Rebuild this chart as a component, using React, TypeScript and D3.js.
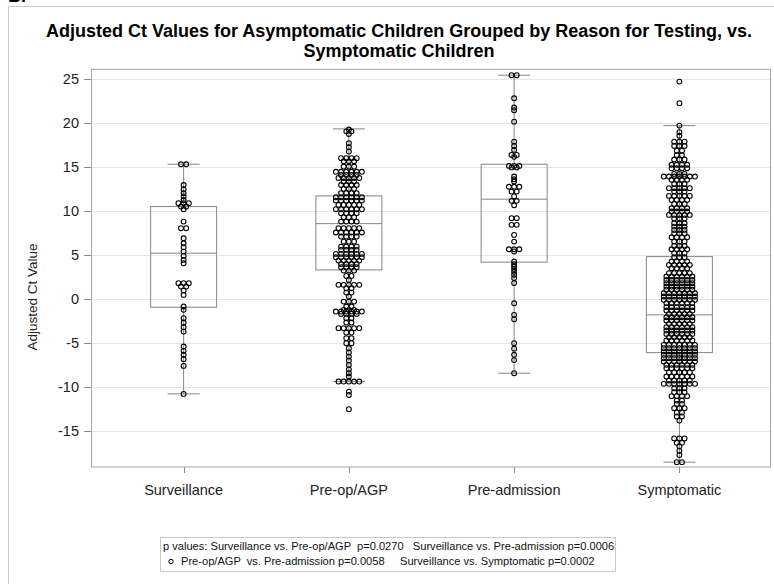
import React from "react";
import * as d3 from "d3";

const categories = ["Surveillance", "Pre-op/AGP", "Pre-admission", "Symptomatic"];
const q1Values = [-0.89, 3.35, 4.23, -6.05];
const medianValues = [5.25, 8.61, 11.39, -1.76];
const q3Values = [10.55, 11.76, 15.36, 4.86];
const whiskerLow = [-10.74, -9.34, -8.39, -18.5];
const whiskerHigh = [15.36, 19.38, 25.48, 19.75];
const yTicks = [-15, -10, -5, 0, 5, 10, 15, 20, 25];

// [value, number of points at that value]
const surveillancePts: [number, number][] = [
  [15.36, 2], [13.0, 1], [12.5, 1], [12.07, 1], [11.7, 1], [11.3, 1], [10.93, 3], [10.55, 2], [10.25, 1],
  [8.84, 1], [8.09, 2], [6.95, 1], [6.38, 1], [5.93, 1], [5.43, 1], [4.94, 1], [4.49, 1], [4.11, 1],
  [1.84, 3], [1.46, 2], [1.0, 1], [0.51, 1], [-0.81, 1], [-1.19, 1], [-2.14, 1], [-2.63, 1], [-3.16, 1],
  [-3.66, 1], [-5.36, 1], [-5.85, 1], [-6.3, 1], [-6.8, 1], [-7.56, 1], [-10.74, 1],
];
const preopPts: [number, number][] = [
  [19.3, 1], [19.1, 2], [18.8, 1], [17.75, 1], [17.3, 1], [16.8, 1], [16.05, 4], [15.7, 3], [15.1, 3],
  [14.5, 6], [14.15, 4], [13.8, 5], [13.4, 3], [13.0, 4], [12.56, 3], [12.07, 4], [11.6, 6], [11.23, 6],
  [10.74, 5], [10.25, 6], [9.8, 4], [9.34, 3], [8.84, 4], [8.1, 5], [7.6, 6], [7.14, 4], [6.57, 3],
  [6.0, 4], [5.63, 4], [5.17, 6], [4.8, 6], [4.41, 5], [4.03, 4], [3.66, 4], [3.27, 3], [2.67, 2],
  [2.2, 1], [1.65, 5], [1.27, 2], [0.77, 2], [0.32, 1], [-0.25, 3], [-0.81, 2], [-1.19, 3], [-1.38, 6],
  [-1.65, 4], [-2.14, 2], [-2.63, 2], [-3.27, 5], [-3.77, 2], [-4.41, 2], [-4.98, 2], [-5.55, 1],
  [-6.04, 1], [-6.5, 1], [-6.95, 1], [-7.45, 1], [-7.95, 1], [-8.4, 1], [-8.77, 1], [-9.34, 5],
  [-10.48, 1], [-10.86, 1], [-12.48, 1],
];
const preadmissionPts: [number, number][] = [
  [25.48, 2], [22.86, 1], [21.8, 1], [21.5, 1], [20.2, 1], [17.93, 1], [17.44, 1], [16.99, 1], [16.42, 2],
  [16.2, 1], [15.17, 3], [15.0, 2], [13.96, 1], [13.65, 1], [13.4, 1], [12.8, 3], [12.25, 2], [11.7, 1],
  [11.2, 2], [10.7, 1], [9.23, 2], [8.47, 2], [7.33, 1], [6.57, 1], [5.7, 3], [5.45, 1], [4.3, 1],
  [4.0, 1], [3.74, 1], [3.44, 1], [3.14, 1], [2.8, 1], [2.42, 1], [1.86, 1], [-0.44, 1], [-1.76, 1],
  [-2.25, 1], [-4.98, 1], [-5.6, 1], [-6.3, 1], [-6.9, 1], [-8.39, 1],
];
const symptomaticPts: [number, number][] = [
  [24.75, 1], [22.3, 1], [19.75, 1], [19.0, 1], [18.6, 1], [17.93, 3], [17.44, 3], [16.9, 2], [16.4, 2],
  [15.9, 3], [15.3, 4], [14.9, 4], [14.26, 3], [13.96, 7], [13.6, 4], [13.1, 3], [12.64, 5], [12.26, 3],
  [11.76, 5], [11.3, 4], [10.85, 3], [10.36, 4], [9.98, 4], [9.6, 5], [9.2, 3], [8.65, 3], [8.27, 3],
  [7.9, 3], [7.5, 3], [7.06, 4], [6.57, 3], [6.08, 3], [5.7, 4], [5.25, 3], [4.8, 3], [4.3, 4],
  [3.92, 5], [3.55, 4], [2.98, 5], [2.6, 6], [2.2, 6], [1.84, 6], [1.46, 6], [1.1, 6], [0.7, 7],
  [0.33, 7], [-0.05, 7], [-0.42, 6], [-0.88, 6], [-1.27, 6], [-1.65, 5], [-2.03, 6], [-2.4, 6],
  [-2.78, 5], [-3.16, 6], [-3.54, 6], [-3.92, 6], [-4.3, 5], [-4.67, 6], [-5.17, 7], [-5.55, 7],
  [-5.92, 7], [-6.3, 7], [-6.68, 7], [-7.06, 7], [-7.44, 6], [-7.82, 6], [-8.3, 5], [-8.77, 6],
  [-9.22, 5], [-9.6, 7], [-10.1, 3], [-10.55, 3], [-11.0, 4], [-11.5, 2], [-11.88, 2], [-12.37, 3],
  [-12.86, 2], [-13.3, 2], [-13.77, 1], [-15.8, 3], [-16.3, 2], [-16.7, 1], [-17.2, 1], [-17.7, 1],
  [-18.5, 2],
];
const groupPoints = [surveillancePts, preopPts, preadmissionPts, symptomaticPts];

const titleLines = [
  "Adjusted Ct Values for Asymptomatic Children Grouped by Reason for Testing, vs.",
  "Symptomatic Children",
];
const footLine1 = "p values: Surveillance vs. Pre-op/AGP  p=0.0270   Surveillance vs. Pre-admission p=0.0006";
const footLine2 = "Pre-op/AGP  vs. Pre-admission p=0.0058     Surveillance vs. Symptomatic p=0.0002";

const W = 774;
const H = 584;
const plotL = 91;
const plotR = 771;
const plotT = 69.3;
const plotB = 467;
const FONT = "'Liberation Sans', Arial, Helvetica, sans-serif";

export default function App() {
  const y = d3.scaleLinear().domain([-19.05, 26.15]).range([plotB, plotT]);
  const x = d3.scalePoint<string>().domain(categories).range([101, 762]).padding(0.5);
  const boxHalf = 33;
  const capHalf = 16;
  const spacing = 5.2;
  const boxColor = "#858585";
  const r = 2.4;

  return (
    <svg
      width={W}
      height={H}
      style={{ position: "absolute", left: 0, top: 0, background: "#fff" }}
      fontFamily={FONT}
    >
      <rect x={0} y={0} width={W} height={H} fill="#fff" />
      <text x={8} y={1.5} fontSize={18} fontWeight="bold" fill="#000">B.</text>
      <rect x={8.5} y={6.5} width={800} height={600} fill="none" stroke="#c8c8c8" />
      {titleLines.map((t, i) => (
        <text key={i} x={399} y={36.5 + i * 20} textAnchor="middle" fontSize={18} fontWeight="bold" fill="#000">
          {t}
        </text>
      ))}
      {/* gridlines */}
      {yTicks.map((t) => (
        <line key={t} x1={plotL} x2={plotR} y1={Math.round(y(t)) + 0.5} y2={Math.round(y(t)) + 0.5} stroke="#e6e6e6" />
      ))}
      {/* y ticks */}
      {yTicks.map((t) => (
        <g key={"yt" + t}>
          <line x1={84} x2={plotL} y1={Math.round(y(t)) + 0.5} y2={Math.round(y(t)) + 0.5} stroke="#8c8c8c" />
          <text x={79} y={y(t) + 5} textAnchor="end" fontSize={14.5} fill="#222">{t}</text>
        </g>
      ))}
      <text transform={`translate(37,297) rotate(-90)`} textAnchor="middle" fontSize={13.5} fill="#222">
        Adjusted Ct Value
      </text>
      {/* x ticks */}
      {categories.map((c) => (
        <g key={"xt" + c}>
          <line x1={Math.round(x(c)!) + 0.5} x2={Math.round(x(c)!) + 0.5} y1={plotB} y2={plotB + 6} stroke="#8c8c8c" />
          <text x={x(c)!} y={494.5} textAnchor="middle" fontSize={14.5} fill="#222">{c}</text>
        </g>
      ))}
      {/* boxes */}
      {categories.map((c, i) => {
        const cx = x(c)!;
        return (
          <g key={"box" + c} stroke={boxColor} fill="none" strokeWidth={1}>
            <rect x={cx - boxHalf} y={y(q3Values[i])} width={boxHalf * 2} height={y(q1Values[i]) - y(q3Values[i])} />
            <line x1={cx - boxHalf} x2={cx + boxHalf} y1={y(medianValues[i])} y2={y(medianValues[i])} />
            <line x1={cx} x2={cx} y1={y(q3Values[i])} y2={y(whiskerHigh[i])} />
            <line x1={cx} x2={cx} y1={y(q1Values[i])} y2={y(whiskerLow[i])} />
            <line x1={cx - capHalf} x2={cx + capHalf} y1={y(whiskerHigh[i])} y2={y(whiskerHigh[i])} />
            <line x1={cx - capHalf} x2={cx + capHalf} y1={y(whiskerLow[i])} y2={y(whiskerLow[i])} />
          </g>
        );
      })}
      {/* points */}
      {categories.map((c, i) => {
        const cx = x(c)!;
        const circles: React.ReactNode[] = [];
        groupPoints[i].forEach(([v, n], j) => {
          for (let k = 0; k < n; k++) {
            const dx = (k - (n - 1) / 2) * spacing;
            circles.push(
              <circle key={j + "-" + k} cx={cx + dx} cy={y(v)} r={r} fill="none" stroke="#000" strokeWidth={1.1} />
            );
          }
        });
        return <g key={"pts" + c}>{circles}</g>;
      })}
      {/* plot frame */}
      <rect x={plotL + 0.5} y={plotT} width={plotR - plotL - 1} height={plotB - plotT} fill="none" stroke="#a6a6a6" />
      {/* footnote */}
      <rect x={160.5} y={537.5} width={455} height={34} fill="#fff" stroke="#c8c8c8" />
      <text x={163} y={550} fontSize={11.1} fill="#111" style={{ whiteSpace: "pre" }}>{footLine1}</text>
      <circle cx={171} cy={561.5} r={2.2} fill="none" stroke="#000" strokeWidth={1} />
      <text x={181} y={565} fontSize={11.1} fill="#111" style={{ whiteSpace: "pre" }}>{footLine2}</text>
    </svg>
  );
}
